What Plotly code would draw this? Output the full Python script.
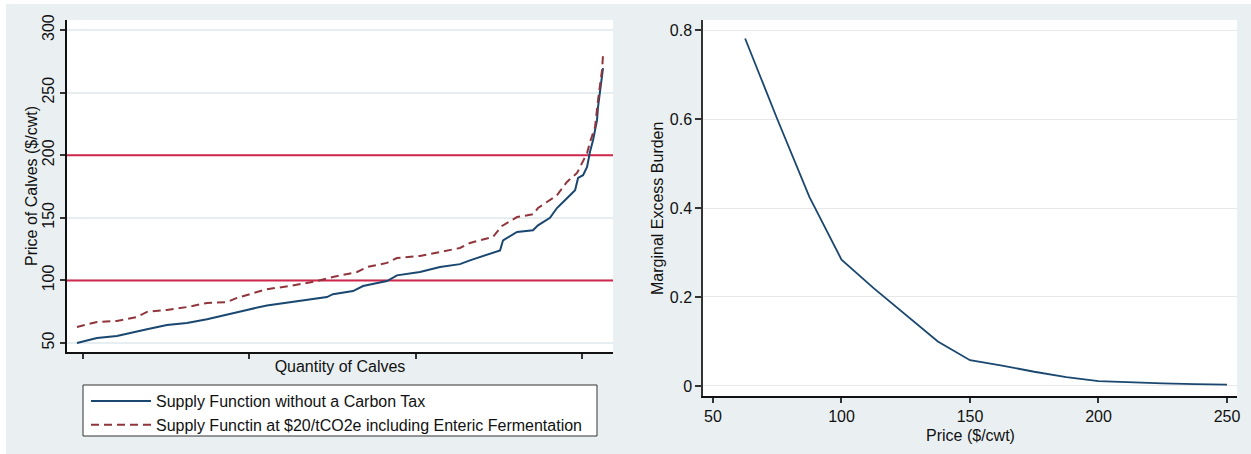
import plotly.graph_objects as go

# ---- data ----
# Left panel: supply functions (quantity in arbitrary units, price $/cwt)
q_base = [-36, 84, 204, 325, 385, 505, 625, 746, 866, 986, 1106, 1305, 1467, 1503, 1624, 1684,
          1828, 1888, 2026, 2147, 2267, 2327, 2405, 2465, 2508, 2526, 2610, 2706, 2736, 2808,
          2850, 2898, 2959, 2977, 3007, 3031, 3049, 3067, 3079, 3091, 3097, 3127]
p_base = [50, 54, 55.6, 58.8, 61, 64.4, 66, 69, 72.4, 76.4, 80, 84, 86.7, 89, 91.5, 95.5,
          99.5, 104, 106.7, 110.7, 113, 116, 119.5, 121.9, 124, 132, 138.7, 140, 144, 150,
          157.8, 164, 172, 181.8, 184, 190.6, 203, 212, 220, 228, 238.5, 269.6]

q_tax = [-36, 84, 204, 325, 385, 505, 625, 746, 866, 926, 1046, 1106, 1245, 1407, 1503, 1648,
         1708, 1828, 1888, 2026, 2147, 2267, 2327, 2465, 2520, 2610, 2706, 2736, 2850, 2910,
         2971, 3007, 3031, 3049, 3079, 3097, 3121, 3127]
p_tax = [62.8, 66.8, 67.6, 70.8, 74.8, 76.4, 78.7, 82, 82.7, 86, 90.7, 93, 95.5, 99.5, 102.7, 106.7,
         110.7, 114, 117.9, 119.5, 122.7, 125.9, 129.9, 134.7, 143.5, 150.6, 152.8, 157.8, 168, 178.6,
         185.8, 194.6, 201.7, 210.5, 222.5, 244, 268, 280]

ref_prices = [100, 200]
left_yticks = [50, 100, 150, 200, 250, 300]
left_xticks = [0, 1000, 2000, 3000]
left_xrange = [-96, 3187]

series_names = ["Supply Function without a Carbon Tax",
                "Supply Functin at $20/tCO2e including Enteric Fermentation"]

# Right panel: marginal excess burden vs price
meb_price = [62.5, 75, 87.5, 100, 112.5, 125, 137.5, 150, 162.5, 175, 187.5, 200, 212.5, 225, 237.5, 250]
meb_value = [0.781, 0.60, 0.425, 0.284, 0.22, 0.16, 0.10, 0.058, 0.046, 0.032, 0.020, 0.011, 0.008, 0.006, 0.004, 0.003]
right_yticks = [0, 0.2, 0.4, 0.6, 0.8]
right_yticklabels = ["0", "0.2", "0.4", "0.6", "0.8"]
right_xticks = [50, 100, 150, 200, 250]

# ---- styling ----
W, H = 1251, 454
BG = "#eaf0f2"
FONT = "Liberation Sans, Arial, sans-serif"
NAVY = "#1a476f"
MAROON = "#90353b"
RED = "#d0284c"
FS = 16


def px_x(p):
    return p / W


def px_y(p):
    return (H - p) / H


fig = go.Figure()

# reference price lines (drawn first so the curves sit on top)
for v in ref_prices:
    fig.add_trace(go.Scatter(x=left_xrange, y=[v, v], mode="lines", showlegend=False,
                             hoverinfo="skip", line=dict(color=RED, width=2),
                             xaxis="x", yaxis="y"))

fig.add_trace(go.Scatter(x=q_base, y=p_base, mode="lines", name=series_names[0],
                         line=dict(color=NAVY, width=2), xaxis="x", yaxis="y"))
fig.add_trace(go.Scatter(x=q_tax, y=p_tax, mode="lines", name=series_names[1],
                         line=dict(color=MAROON, width=2, dash="8px,5px"), xaxis="x", yaxis="y"))
fig.add_trace(go.Scatter(x=meb_price, y=meb_value, mode="lines", showlegend=False,
                         line=dict(color=NAVY, width=1.8), xaxis="x2", yaxis="y2"))

shapes = [
    dict(type="rect", xref="paper", yref="paper", x0=0, x1=1, y0=px_y(4), y1=1,
         fillcolor="white", line=dict(width=0), layer="below"),
    dict(type="rect", xref="paper", yref="paper", x0=0, x1=px_x(6), y0=0, y1=1,
         fillcolor="white", line=dict(width=0), layer="below"),
    dict(type="rect", xref="paper", yref="paper", x0=px_x(83), x1=px_x(597), y0=px_y(436), y1=px_y(385),
         fillcolor="white", line=dict(color="#333333", width=1), layer="below"),
]

tickfont = dict(family=FONT, size=FS, color="#111111")
titlefont = dict(family=FONT, size=FS, color="#111111")

annotations = [
    dict(text="Price of Calves ($/cwt)", xref="paper", yref="paper", x=px_x(32), y=px_y(186),
         xanchor="center", yanchor="middle", textangle=-90, showarrow=False, font=titlefont),
    dict(text="Price ($/cwt)", xref="paper", yref="paper", x=px_x(970), y=px_y(435),
         xanchor="center", yanchor="middle", showarrow=False, font=titlefont),
    dict(text="Marginal Excess Burden", xref="paper", yref="paper", x=px_x(657), y=px_y(208),
         xanchor="center", yanchor="middle", textangle=-90, showarrow=False, font=titlefont),
]

fig.update_layout(
    width=W, height=H,
    margin=dict(l=0, r=0, t=0, b=0),
    paper_bgcolor=BG,
    plot_bgcolor="white",
    font=dict(family=FONT, size=FS, color="#111111"),
    shapes=shapes,
    annotations=annotations,
    showlegend=True,
    legend=dict(x=px_x(86), y=px_y(384), xanchor="left", yanchor="top",
                bgcolor="rgba(0,0,0,0)", borderwidth=0, font=dict(family=FONT, size=FS),
                tracegroupgap=0, itemwidth=60),
    xaxis=dict(domain=[px_x(67), px_x(613)], range=left_xrange, anchor="y",
               tickvals=left_xticks, ticktext=["", "", "", ""], ticks="outside", ticklen=5,
               tickcolor="#333333", tickwidth=1.5,
               showgrid=False, zeroline=False, showline=True, linecolor="#111111", linewidth=1.5,
               title=dict(text="Quantity of Calves", font=titlefont, standoff=0),
               automargin=False),
    yaxis=dict(domain=[px_y(352), px_y(20)], range=[42.8, 308], anchor="x",
               tickvals=left_yticks, ticks="outside", ticklen=5, tickcolor="#333333", tickwidth=1.5,
               tickangle=-90, tickfont=tickfont,
               showgrid=True, gridcolor="#e6eef1", gridwidth=1.5, zeroline=False,
               showline=True, linecolor="#111111", linewidth=1.5,
               automargin=False),
    xaxis2=dict(domain=[px_x(703), px_x(1237)], range=[46.11, 253.9], anchor="y2",
                tickvals=right_xticks, ticks="outside", ticklen=5, tickcolor="#333333", tickwidth=1.5,
                tickfont=tickfont, showgrid=False, zeroline=False,
                showline=True, linecolor="#111111", linewidth=1.5,
                automargin=False),
    yaxis2=dict(domain=[px_y(396), px_y(20)], range=[-0.0225, 0.8225], anchor="x2",
                tickvals=right_yticks, ticktext=right_yticklabels, ticks="outside", ticklen=6,
                tickcolor="#333333", tickwidth=1.5, tickfont=tickfont,
                showgrid=True, gridcolor="#e8e8e8", gridwidth=1.2, zeroline=False,
                showline=True, linecolor="#333333", linewidth=1.5,
                automargin=False),
)

fig.write_html("out.html")
